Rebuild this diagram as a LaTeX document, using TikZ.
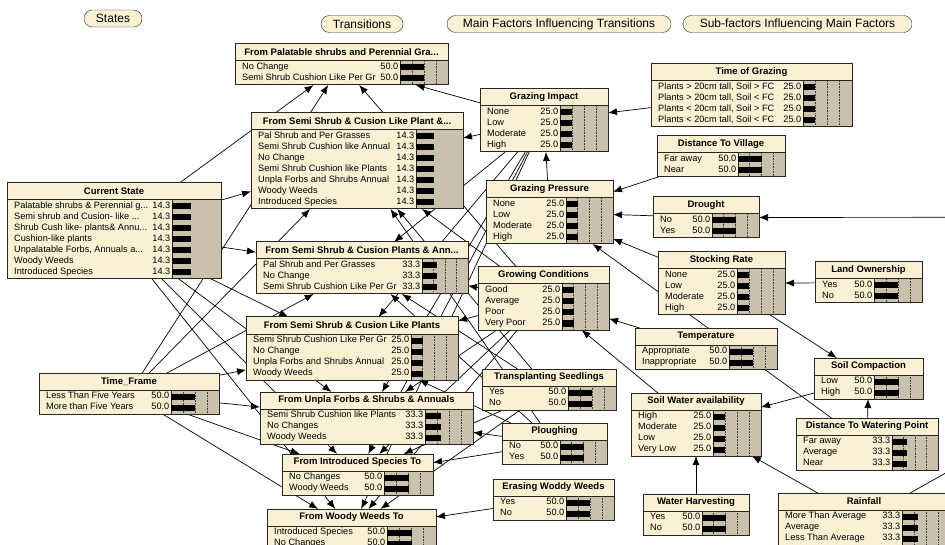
\documentclass[tikz,border=0pt]{standalone}
\usepackage{fontspec}
\setmainfont{Liberation Sans}
\usetikzlibrary{positioning,calc,arrows.meta,shapes.misc}
\pgfdeclarelayer{links}
\pgfsetlayers{links,main}

\definecolor{bncream}{RGB}{250,240,212}
\definecolor{bntan}{RGB}{201,193,172}

\newcommand{\bndots}{...}

% one network node: name, left, top, right, bar left, rows, bar scale, title, states
\newcommand{\bnnode}[9]{%
  \pgfmathsetmacro\bnh{17+11*#6+2}%
  \pgfmathsetmacro\bnw{#4-#2}%
  \pgfmathsetmacro\bnb{#3+\bnh}%
  \pgfmathsetmacro\bnbw{#4-#5}%
  \pgfmathtruncatemacro\bngrid{#7==1}%
  \node[bnbox, minimum width=\bnw pt, minimum height=\bnh pt] (#1) at (#2,#3) {};
  \fill[bntan] (#5,#3+17) rectangle (#4,\bnb);
  \ifnum\bngrid=1
    \foreach \g in {0.25,0.5,0.75}
      \draw[densely dotted, black!75, line width=.6pt] ({#5+\g*\bnbw},#3+17) -- ({#5+\g*\bnbw},\bnb);
  \fi
  \draw[black!85, line width=.8pt] (#5,#3+17) -- (#5,\bnb);
  \node[bntitle] at ($(#1.north)+(0,8.5)$) {#8};
  \foreach \lab/\val [count=\i] in {#9} {
    \pgfmathsetmacro\bny{#3+17+6.5+11*(\i-1)}
    \node[bnrow, anchor=west] at (#2+7,\bny) {\lab};
    \node[bnrow, anchor=east] at (#5-1.5,\bny) {\val};
    \fill (#5,\bny-3) rectangle ({#5+\val/100*\bnbw*#7},\bny+3);
  }
  \draw[bnline] (#2,#3+17) -- (#4,#3+17);
  \draw[bnline] (#1.north west) rectangle (#1.south east);
}

\begin{document}
\begin{tikzpicture}[x=1pt, y=-1pt,
    bnbox/.style={rectangle, fill=bncream, inner sep=0pt, outer sep=0pt, anchor=north west},
    bnline/.style={draw=black!85, line width=1pt},
    bntitle/.style={font=\fontsize{9.5}{11}\bfseries\selectfont, inner sep=0pt},
    bnrow/.style={font=\fontsize{9.2}{10}\selectfont, inner sep=0pt, text height=6.7pt, text depth=1.9pt},
    tag/.style={rounded rectangle, draw=black!80, fill=bncream, font=\fontsize{12}{14}\selectfont, minimum height=17pt, inner sep=0pt},
    link/.style={draw=black, line width=.7pt, -{Latex[length=9pt, width=7pt]}},
  ]
  \useasboundingbox (0,0) rectangle (945,545);

  % headings
  \node[tag, minimum width=58pt]  (hstates) at (113,18.5) {States};
  \node[tag, minimum width=82pt]  (htrans)  at (362,24)   {Transitions};
  \node[tag, minimum width=224pt] (hmain)   at (559,24)   {Main Factors Influencing Transitions};
  \node[tag, minimum width=229pt] (hsub)    at (797.5,24) {Sub-factors Influencing Main Factors};

  % states
  \bnnode{cs}{7}{183}{221}{172}{7}{2.7}{Current State}{Palatable shrubs \& Perennial g\bndots/14.3, Semi shrub and Cusion- like \bndots/14.3, Shrub Cush like- plants\& Annu\bndots/14.3, Cushion-like plants/14.3, {Unpalatable Forbs, Annuals a\bndots}/14.3, Woody Weeds/14.3, Introduced Species/14.3}
  \bnnode{tf}{39}{373}{219}{171}{2}{1}{Time\_Frame}{Less Than Five Years/50.0, More than Five Years/50.0}

  % transitions
  \bnnode{t1}{235}{44}{448}{400}{2}{1}{From Palatable shrubs and Perennial Gra...}{No Change/50.0, Semi Shrub Cushion Like Per Gr/50.0}
  \bnnode{t2}{251}{113}{463}{416}{7}{2.7}{From Semi Shrub \& Cusion Like Plant \&...}{Pal Shrub and Per Grasses/14.3, Semi Shrub Cushion like Annual/14.3, No Change/14.3, Semi Shrub Cushion like Plants/14.3, Unpla Forbs and Shrubs Annual/14.3, Woody Weeds/14.3, Introduced Species/14.3}
  \bnnode{t3}{256}{242}{468}{422}{3}{1}{From Semi Shrub \& Cusion Plants \& Ann...}{Pal Shrub and Per Grasses/33.3, No Change/33.3, Semi Shrub Cushion Like Per Gr/33.3}
  \bnnode{t4}{246}{317}{458}{411}{4}{1}{From Semi Shrub \& Cusion Like Plants}{Semi Shrub Cushion Like Per Gr/25.0, No Change/25.0, Unpla Forbs and Shrubs Annual/25.0, Woody Weeds/25.0}
  \bnnode{t5}{260}{392}{473}{425}{3}{1}{From Unpla Forbs \& Shrubs \& Annuals}{Semi Shrub Cushion like Plants/33.3, No Changes/33.3, Woody Weeds/33.3}
  \bnnode{t6}{282}{454}{433}{384}{2}{1}{From Introduced Species To}{No Changes/50.0, Woody Weeds/50.0}
  \bnnode{t7}{267}{509}{436}{387}{2}{1}{From Woody Weeds To}{Introduced Species/50.0, No Changes/50.0}

  % main factors
  \bnnode{gi}{480}{89}{608}{560}{4}{1}{Grazing Impact}{None/25.0, Low/25.0, Moderate/25.0, High/25.0}
  \bnnode{gp}{486}{181}{613}{566}{4}{1}{Grazing Pressure}{None/25.0, Low/25.0, Moderate/25.0, High/25.0}
  \bnnode{gc}{478}{267}{609}{562}{4}{1}{Growing Conditions}{Good/25.0, Average/25.0, Poor/25.0, Very Poor/25.0}
  \bnnode{ts}{482}{369}{616}{568}{2}{1}{Transplanting Seedlings}{Yes/50.0, No/50.0}
  \bnnode{pl}{502}{423}{607}{560}{2}{1}{Ploughing}{No/50.0, Yes/50.0}
  \bnnode{ew}{493}{479}{614}{566}{2}{1}{Erasing Woddy Weeds}{Yes/50.0, No/50.0}

  % sub-factors
  \bnnode{tg}{651}{64}{852}{803}{4}{1}{Time of Grazing}{{Plants > 20cm tall, Soil > FC}/25.0, {Plants > 20cm tall, Soil < FC}/25.0, {Plants < 20cm tall, Soil > FC}/25.0, {Plants < 20cm tall, Soil < FC}/25.0}
  \bnnode{dv}{657}{136}{785}{738}{2}{1}{Distance To Village}{Far away/50.0, Near/50.0}
  \bnnode{dr}{653}{197}{759}{712}{2}{1}{Drought}{No/50.0, Yes/50.0}
  \bnnode{sr}{658}{252}{785}{737}{4}{1}{Stocking Rate}{None/25.0, Low/25.0, Moderate/25.0, High/25.0}
  \bnnode{lo}{815}{262}{922}{874}{2}{1}{Land Ownership}{Yes/50.0, No/50.0}
  \bnnode{te}{635}{328}{777}{729}{2}{1}{Temperature}{Appropriate/50.0, Inappropriate/50.0}
  \bnnode{sc}{814}{358}{923}{874}{2}{1}{Soil Compaction}{Low/50.0, High/50.0}
  \bnnode{sw}{631}{393}{761}{713}{4}{1}{Soil Water availability}{High/25.0, Moderate/25.0, Low/25.0, Very Low/25.0}
  \bnnode{dw}{796}{418}{938}{892}{3}{1}{Distance To Watering Point}{Far away/33.3, Average/33.3, Near/33.3}
  \bnnode{wh}{643}{494}{749}{702}{2}{1}{Water Harvesting}{Yes/50.0, No/50.0}
  \bnnode{rf}{778}{493}{950}{902}{3}{1}{Rainfall}{More Than Average/33.3, Average/33.3, Less Than Average/33.3}

  % node beyond the right edge
  \coordinate (wx) at (1400,217);

  \begin{pgfonlayer}{links}
    \fill[white] (0,0) rectangle (945,545);
    \foreach \t in {t1,t2,t3,t4,t5,t6,t7} {
      \draw[link] (cs) -- (\t);
      \draw[link] (tf) -- (\t);
      \draw[link] (gi) -- (\t);
      \draw[link] (gc) -- (\t);
    }
    \foreach \t in {t2,t3,t6,t7}
      \draw[link] (ts) -- (\t);
    \foreach \t in {t2,t3,t4,t5,t6}
      \draw[link] (pl) -- (\t);
    \foreach \a/\b in {ew/t7, tg/gi, gp/gi, dv/gp, dr/gp, sr/gp, dw/gp, lo/sr, sr/sc,
                       te/gc, sw/gc, sc/sw, wh/sw, rf/sw, dw/sc, wx/dr, rf/wx}
      \draw[link] (\a) -- (\b);
  \end{pgfonlayer}
\end{tikzpicture}
\end{document}
